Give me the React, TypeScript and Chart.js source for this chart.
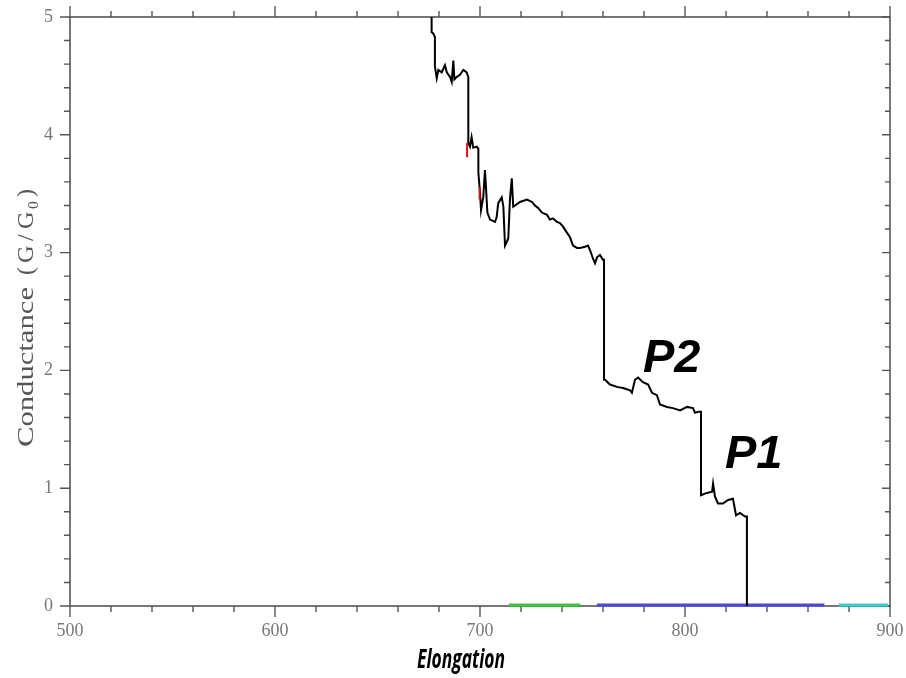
import React, { useEffect, useRef } from "react";
import { Chart, registerables } from "chart.js";
Chart.register(...registerables);

// ---- data ----
const elongation = [
  676.4, 676.4, 677.2, 678.0, 678.0, 678.9, 679.7, 681.3, 682.9, 683.8, 685.4, 686.2, 687.0, 687.5, 688.6,
  690.2, 691.9, 693.5, 694.3, 694.3, 695.1, 695.9, 696.7, 698.4, 699.2, 699.2, 700.0, 700.5, 701.6, 702.4,
  702.9, 703.6, 704.9, 707.3, 708.1, 708.9, 710.6, 711.4, 712.2, 713.8, 714.6, 715.5, 716.2, 717.1, 719.5,
  722.9, 725.4, 726.8, 728.3, 730.2, 732.7, 734.1, 735.6, 737.6, 739.0, 740.5, 742.4, 743.9, 745.4, 747.3,
  748.8, 751.2, 752.7, 753.7, 755.1, 756.1, 757.1, 758.5, 760.0, 760.5, 760.5, 761.0, 763.4, 766.8, 769.8,
  773.2, 774.1, 775.6, 777.1, 779.5, 782.0, 783.9, 786.3, 787.8, 791.2, 794.1, 797.6, 801.0, 803.9, 804.9,
  806.8, 807.8, 807.8, 810.7, 813.2, 813.7, 814.6, 816.1, 818.5, 821.0, 823.4, 824.9, 826.8, 829.3, 830.2,
  830.2,
];
const conductance = [
  5.0, 4.87, 4.86, 4.83, 4.58, 4.48, 4.55, 4.53, 4.59, 4.53, 4.49, 4.45, 4.63, 4.47, 4.49,
  4.51, 4.55, 4.53, 4.49, 3.93, 3.90, 3.98, 3.89, 3.90, 3.88, 3.68, 3.51, 3.36, 3.47, 3.70,
  3.56, 3.34, 3.28, 3.26, 3.30, 3.42, 3.47, 3.39, 3.06, 3.12, 3.45, 3.63, 3.39, 3.40, 3.43,
  3.45, 3.43, 3.40, 3.38, 3.34, 3.32, 3.28, 3.29, 3.26, 3.25, 3.22, 3.17, 3.13, 3.06, 3.04,
  3.04, 3.05, 3.06, 3.02, 2.95, 2.91, 2.96, 2.98, 2.94, 2.94, 1.92, 1.92, 1.88, 1.86, 1.85,
  1.83, 1.81, 1.92, 1.94, 1.90, 1.88, 1.81, 1.79, 1.71, 1.69, 1.68, 1.66, 1.69, 1.68, 1.64,
  1.65, 1.65, 0.94, 0.96, 0.97, 1.04, 0.93, 0.87, 0.87, 0.90, 0.91, 0.77, 0.79, 0.76, 0.76,
  0.0,
];
const redElong = [693.7, 693.7, null, 699.8, 699.8];
const redCond = [3.93, 3.81, null, 3.56, 3.45];
const greenSpan = [714, 749];
const blueSpan = [757, 868];
const cyanSpan = [875, 899];
const baselineLevel = 0.008;
const xMajorTicks = [500, 600, 700, 800, 900];
const yMajorTicks = [0, 1, 2, 3, 4, 5];
const peakLabels = ["P2", "P1"];
const peakElong = [779.5, 819.5];
const peakCond = [1.99, 1.17];
const xTitle = "Elongation";
const yTitleParts = ["Conductance", "(", "G", "/", "G", "0", ")"];

const isMajorX = (v: number) => xMajorTicks.some((m) => Math.abs(m - v) < 1e-6);
const isMajorY = (v: number) => yMajorTicks.some((m) => Math.abs(m - v) < 1e-6);

const framePlugin = {
  id: "frame",
  beforeDatasetsDraw(chart: any) {
    const { ctx, chartArea } = chart;
    const { left, right, top, bottom } = chartArea;
    const xs = chart.scales.x;
    const ys = chart.scales.y;
    ctx.save();
    ctx.strokeStyle = "#555";
    ctx.lineWidth = 1.6;
    ctx.strokeRect(left, top, right - left, bottom - top);
    ctx.lineWidth = 1.4;
    ctx.beginPath();
    xs.ticks.forEach((t: any) => {
      const px = xs.getPixelForValue(t.value);
      const major = isMajorX(t.value);
      ctx.moveTo(px, bottom);
      ctx.lineTo(px, bottom + (major ? 11 : 6));
      ctx.moveTo(px, top);
      ctx.lineTo(px, top - (major ? 11 : 6));
    });
    ys.ticks.forEach((t: any) => {
      const py = ys.getPixelForValue(t.value);
      const major = isMajorY(t.value);
      ctx.moveTo(left, py);
      ctx.lineTo(left - (major ? 10 : 6), py);
      ctx.moveTo(right, py);
      ctx.lineTo(right - (major ? 8 : 5), py);
    });
    ctx.stroke();
    ctx.restore();
  },
  afterDraw(chart: any) {
    const { ctx, chartArea } = chart;
    const xs = chart.scales.x;
    const ys = chart.scales.y;
    ctx.save();
    // y axis title (drawn in pieces, rotated)
    ctx.fillStyle = "#555";
    ctx.font = '23px "Liberation Serif", serif';
    const sxWord = 160 / ctx.measureText(yTitleParts[0]).width;
    const offsets = [0, 172, 184, 206, 218, 238, 250];
    const baseY = 447;
    yTitleParts.forEach((p, i) => {
      ctx.save();
      const sub = i === 5;
      ctx.font = sub ? '15px "Liberation Serif", serif' : '23px "Liberation Serif", serif';
      ctx.translate(33 + (sub ? 5 : 0), baseY - offsets[i]);
      ctx.rotate(-Math.PI / 2);
      ctx.scale(i === 0 ? sxWord : 1.05, 1);
      ctx.textBaseline = "alphabetic";
      ctx.textAlign = "left";
      ctx.fillText(p, 0, 0);
      ctx.restore();
    });
    // x axis title
    ctx.save();
    ctx.fillStyle = "#000";
    ctx.font = 'italic bold 27px "Open Sans", "Liberation Sans", sans-serif';
    const w = ctx.measureText(xTitle).width;
    const s2 = 88 / w;
    const cx = (chartArea.left + chartArea.right) / 2 - 19;
    ctx.translate(cx, 668);
    ctx.scale(s2, 1);
    ctx.textAlign = "center";
    ctx.textBaseline = "alphabetic";
    ctx.fillText(xTitle, 0, 0);
    ctx.restore();
    // peak labels
    ctx.fillStyle = "#000";
    ctx.font = 'italic bold 47px "Liberation Sans", Arial, sans-serif';
    ctx.textAlign = "left";
    ctx.textBaseline = "alphabetic";
    peakLabels.forEach((lab, i) => {
      ctx.fillText(lab, xs.getPixelForValue(peakElong[i]), ys.getPixelForValue(peakCond[i]));
    });
    ctx.restore();
  },
};

export default function App() {
  const ref = useRef<HTMLCanvasElement | null>(null);
  useEffect(() => {
    if (!ref.current) return;
    const seg = (span: number[]) => [
      { x: span[0], y: baselineLevel },
      { x: span[1], y: baselineLevel },
    ];
    const zeroPad = (s: any) => {
      s.paddingTop = 0;
      s.paddingBottom = 0;
      s.paddingLeft = 0;
      s.paddingRight = 0;
    };
    const chart = new Chart(ref.current, {
      type: "line",
      data: {
        datasets: [
          {
            data: redElong.map((x, i) => (x === null ? { x: NaN, y: NaN } : { x, y: redCond[i] })) as any,
            borderColor: "#e01010",
            borderWidth: 2,
            pointRadius: 0,
            spanGaps: false,
          },
          {
            data: elongation.map((x, i) => ({ x, y: conductance[i] })),
            borderColor: "#000",
            borderWidth: 2,
            pointRadius: 0,
            tension: 0,
          },
          { data: seg(greenSpan), borderColor: "#3ec43e", borderWidth: 3, pointRadius: 0, clip: 5 } as any,
          { data: seg(blueSpan), borderColor: "#4b4bd4", borderWidth: 3, pointRadius: 0, clip: 5 } as any,
          { data: seg(cyanSpan), borderColor: "#3fcccc", borderWidth: 3, pointRadius: 0, clip: 5 } as any,
        ],
      },
      options: {
        animation: false,
        responsive: false,
        devicePixelRatio: 1,
        layout: { padding: { top: 17, right: 16, left: 0, bottom: 0 } },
        plugins: { legend: { display: false }, tooltip: { enabled: false }, title: { display: false } },
        scales: {
          x: {
            type: "linear",
            min: 500,
            max: 900,
            grid: { display: false, drawTicks: false },
            border: { display: false },
            afterFit: (s: any) => {
              s.height = 72;
              zeroPad(s);
            },
            ticks: {
              stepSize: 20,
              autoSkip: false,
              maxRotation: 0,
              padding: 14,
              color: "#777",
              font: { family: '"Liberation Serif", serif', size: 18 },
              callback: (v: any) => (isMajorX(Number(v)) ? String(Math.round(Number(v))) : ""),
            },
          },
          y: {
            type: "linear",
            min: 0,
            max: 5,
            grid: { display: false, drawTicks: false },
            border: { display: false },
            afterFit: (s: any) => {
              s.width = 70;
              zeroPad(s);
            },
            ticks: {
              stepSize: 0.2,
              autoSkip: false,
              padding: 17,
              color: "#777",
              font: { family: '"Liberation Serif", serif', size: 18 },
              callback: (v: any) => (isMajorY(Number(v)) ? String(Math.round(Number(v))) : ""),
            },
          },
        },
      },
      plugins: [framePlugin],
    });
    return () => chart.destroy();
  }, []);
  return (
    <div style={{ position: "absolute", left: 0, top: 0, width: 906, height: 678, background: "#fff" }}>
      <canvas ref={ref} width={906} height={678} />
    </div>
  );
}
